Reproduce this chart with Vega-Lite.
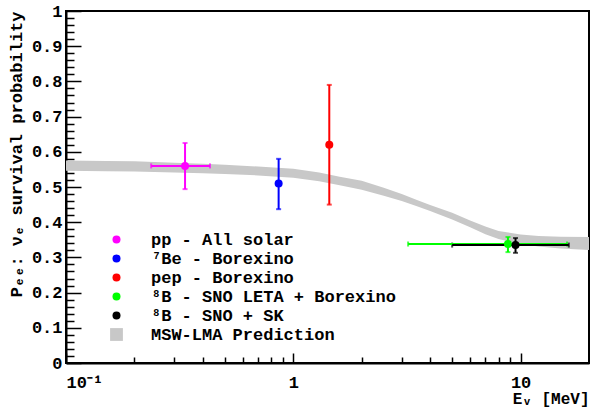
{
  "$schema": "https://vega.github.io/schema/vega-lite/v6.json",
  "width": 523,
  "height": 352,
  "autosize": {"type": "none"},
  "padding": {"left": 66, "top": 11, "right": 3, "bottom": 44},
  "background": "white",
  "config": {
    "view": {"stroke": "black", "strokeWidth": 2},
    "font": "Liberation Mono",
    "axis": {"grid": false, "domainColor": "black", "domainWidth": 2, "tickColor": "black", "tickWidth": 1.5,
             "labelFont": "Liberation Mono", "labelFontWeight": "bold", "labelFontSize": 17, "labelColor": "black",
             "titleFont": "Liberation Mono", "titleFontWeight": "bold", "titleFontSize": 16, "titleColor": "black"}
  },
  "datasets": {
    "pts": [
      {"series": "pp - All solar", "E": 0.334, "P": 0.56, "Plo": 0.494, "Phi": 0.625, "Elo": 0.237, "Ehi": 0.43},
      {"series": "⁷Be - Borexino", "E": 0.862, "P": 0.51, "Plo": 0.437, "Phi": 0.58, "Elo": null, "Ehi": null},
      {"series": "pep - Borexino", "E": 1.44, "P": 0.62, "Plo": 0.45, "Phi": 0.79, "Elo": null, "Ehi": null},
      {"series": "⁸B - SNO LETA + Borexino", "E": 8.8, "P": 0.338, "Plo": 0.315, "Phi": 0.358, "Elo": 3.2, "Ehi": 16},
      {"series": "⁸B - SNO + SK", "E": 9.5, "P": 0.335, "Plo": 0.313, "Phi": 0.355, "Elo": 5.0, "Ehi": 16.3}
    ],
    "band": [
      {"series": "MSW-LMA Prediction", "E": 0.1, "lo": 0.546, "hi": 0.575},
      {"series": "MSW-LMA Prediction", "E": 0.15, "lo": 0.545, "hi": 0.574},
      {"series": "MSW-LMA Prediction", "E": 0.2, "lo": 0.544, "hi": 0.573},
      {"series": "MSW-LMA Prediction", "E": 0.3, "lo": 0.541, "hi": 0.569},
      {"series": "MSW-LMA Prediction", "E": 0.4, "lo": 0.539, "hi": 0.566},
      {"series": "MSW-LMA Prediction", "E": 0.5, "lo": 0.537, "hi": 0.563},
      {"series": "MSW-LMA Prediction", "E": 0.7, "lo": 0.533, "hi": 0.558},
      {"series": "MSW-LMA Prediction", "E": 1.0, "lo": 0.526, "hi": 0.552},
      {"series": "MSW-LMA Prediction", "E": 1.3, "lo": 0.516, "hi": 0.541},
      {"series": "MSW-LMA Prediction", "E": 1.6, "lo": 0.505, "hi": 0.529},
      {"series": "MSW-LMA Prediction", "E": 2.0, "lo": 0.492, "hi": 0.518},
      {"series": "MSW-LMA Prediction", "E": 2.5, "lo": 0.475, "hi": 0.498},
      {"series": "MSW-LMA Prediction", "E": 3.0, "lo": 0.46, "hi": 0.48},
      {"series": "MSW-LMA Prediction", "E": 3.5, "lo": 0.445, "hi": 0.463},
      {"series": "MSW-LMA Prediction", "E": 4.0, "lo": 0.432, "hi": 0.449},
      {"series": "MSW-LMA Prediction", "E": 5.0, "lo": 0.408, "hi": 0.427},
      {"series": "MSW-LMA Prediction", "E": 6.0, "lo": 0.386, "hi": 0.405},
      {"series": "MSW-LMA Prediction", "E": 7.0, "lo": 0.366, "hi": 0.388},
      {"series": "MSW-LMA Prediction", "E": 8.0, "lo": 0.352, "hi": 0.375},
      {"series": "MSW-LMA Prediction", "E": 10.0, "lo": 0.338, "hi": 0.365},
      {"series": "MSW-LMA Prediction", "E": 12.0, "lo": 0.331, "hi": 0.361},
      {"series": "MSW-LMA Prediction", "E": 15.0, "lo": 0.325, "hi": 0.359},
      {"series": "MSW-LMA Prediction", "E": 20.0, "lo": 0.321, "hi": 0.358}
    ]
  },
  "resolve": {"axis": {"x": "independent", "y": "independent"}},
  "layer": [
    {
      "data": {"name": "band"},
      "mark": {"type": "area", "opacity": 1},
      "encoding": {
        "x": {"field": "E", "type": "quantitative",
              "scale": {"type": "log", "domain": [0.1, 20], "nice": false},
              "axis": {"orient": "bottom", "values": [0.1, 1, 10], "tickSize": -10, "labelPadding": 21,
                       "labelExpr": "datum.value < 0.5 ? '10⁻¹' : datum.value < 5 ? '1' : '10'",
                       "title": "Eᵥ [MeV]", "titleAnchor": "end", "titleAlign": "right", "titleX": 523, "titleY": 40, "titleBaseline": "alphabetic"}},
        "y": {"field": "lo", "type": "quantitative",
              "scale": {"domain": [0, 1], "nice": false, "zero": false},
              "axis": {"orient": "left", "values": [0, 0.1, 0.2, 0.3, 0.4, 0.5, 0.6, 0.7, 0.8, 0.9, 1], "format": "~g",
                       "tickSize": -15, "labelPadding": 19,
                       "title": "Pₑₑ:   νₑ survival probability", "titleFontSize": 17, "titleAngle": -90, "titleAlign": "right",
                       "titleX": -50, "titleY": 0, "titleBaseline": "middle"}},
        "y2": {"field": "hi"},
        "color": {"field": "series", "type": "nominal",
                  "scale": {"domain": ["pp - All solar", "⁷Be - Borexino", "pep - Borexino", "⁸B - SNO LETA + Borexino", "⁸B - SNO + SK", "MSW-LMA Prediction"],
                            "range": ["#ff00ff", "#0000ff", "#ff0000", "#00ff00", "#000000", "#c8c8c8"]},
                  "legend": {"title": null, "orient": "none", "legendX": 42, "legendY": 220,
                             "labelFont": "Liberation Mono", "labelFontWeight": "bold", "labelFontSize": 17, "labelColor": "black", "labelLimit": 500,
                             "symbolSize": 64, "symbolStrokeWidth": 0, "labelOffset": 26, "rowPadding": 1}}
      }
    },
    {
      "data": {"name": "pts"},
      "transform": [{"filter": "datum.Elo != null"}],
      "mark": {"type": "errorbar", "ticks": {"size": 5, "thickness": 2}, "rule": {"strokeWidth": 2}},
      "encoding": {
        "x": {"field": "Elo", "type": "quantitative", "axis": {"orient": "bottom", "values": [0.2,0.3,0.4,0.5,0.6,0.7,0.8,0.9,2,3,4,5,6,7,8,9], "tickSize": -6, "labels": false, "domain": false, "title": null}},
        "x2": {"field": "Ehi"},
        "y": {"field": "P", "type": "quantitative", "axis": {"orient": "left", "values": [0.02,0.04,0.06,0.08,0.12,0.14,0.16,0.18,0.22,0.24,0.26,0.28,0.32,0.34,0.36,0.38,0.42,0.44,0.46,0.48,0.52,0.54,0.56,0.58,0.62,0.64,0.66,0.68,0.72,0.74,0.76,0.78,0.82,0.84,0.86,0.88,0.92,0.94,0.96,0.98], "tickSize": -8, "labels": false, "domain": false, "title": null}},
        "color": {"field": "series", "type": "nominal"}
      }
    },
    {
      "data": {"name": "pts"},
      "mark": {"type": "errorbar", "ticks": {"size": 5, "thickness": 2}, "rule": {"strokeWidth": 2}},
      "encoding": {
        "x": {"field": "E", "type": "quantitative", "axis": null},
        "y": {"field": "Plo", "type": "quantitative", "axis": null},
        "y2": {"field": "Phi"},
        "color": {"field": "series", "type": "nominal"}
      }
    },
    {
      "data": {"name": "pts"},
      "mark": {"type": "point", "filled": true, "size": 64, "opacity": 1},
      "encoding": {
        "x": {"field": "E", "type": "quantitative", "axis": null},
        "y": {"field": "P", "type": "quantitative", "axis": null},
        "color": {"field": "series", "type": "nominal"},
        "shape": {"field": "series", "type": "nominal",
                  "scale": {"domain": ["pp - All solar", "⁷Be - Borexino", "pep - Borexino", "⁸B - SNO LETA + Borexino", "⁸B - SNO + SK", "MSW-LMA Prediction"],
                            "range": ["circle", "circle", "circle", "circle", "circle", "M-1.6,-1.6H1.6V1.6H-1.6Z"]}}
      }
    }
  ]
}
